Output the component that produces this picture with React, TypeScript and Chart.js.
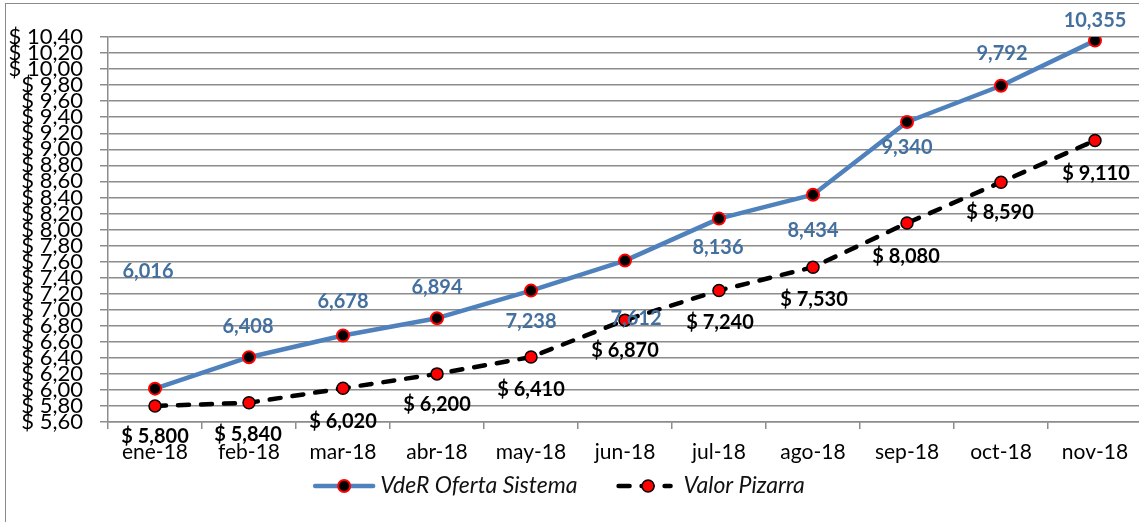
import React, { useEffect, useRef } from "react";
import { Chart, registerables } from "chart.js";

Chart.register(...registerables);

const categories = ["ene-18", "feb-18", "mar-18", "abr-18", "may-18", "jun-18", "jul-18", "ago-18", "sep-18", "oct-18", "nov-18"];
const vderValues = [6.016, 6.408, 6.678, 6.894, 7.238, 7.612, 8.136, 8.434, 9.34, 9.792, 10.355];
const pizarraValues = [5.8, 5.84, 6.02, 6.2, 6.41, 6.87, 7.24, 7.53, 8.08, 8.59, 9.11];
const yTicks = [5.6, 5.8, 6.0, 6.2, 6.4, 6.6, 6.8, 7.0, 7.2, 7.4, 7.6, 7.8, 8.0, 8.2, 8.4, 8.6, 8.8, 9.0, 9.2, 9.4, 9.6, 9.8, 10.0, 10.2, 10.4];
const seriesNames = ["VdeR Oferta Sistema", "Valor Pizarra"];

// label placement (pixel offsets from each point)
const vderLabelDx = [-7, -1, 0, 0, 0, 11, -1, 0, 0, 1, 0];
const vderLabelDy = [-117, -31, -34, -31, 31, 58, 29, 36, 26, -32, -20];
const pizarraLabelDx = [0, -1, 0, 0, 0, 0, 1, 1, -1, -1, 1];
const pizarraLabelDy = [31, 32, 33, 31, 33, 30, 32, 32, 33, 30, 33];

const FONT = "Lato, 'Open Sans', sans-serif";
const BLUE = "#4F81BD";
const LABEL_BLUE = "#44709f";
const GRID = "#8c8c8c";

const fmtVdeR = (v: number) => v.toFixed(3).replace(".", ",");
const fmtPiz = (v: number) => "$ " + v.toFixed(3).replace(".", ",");

const labelPlugin = {
  id: "pointLabels",
  afterDatasetsDraw(chart: any) {
    const ctx = chart.ctx;
    ctx.save();
    ctx.font = `bold 20px ${FONT}`;
    ctx.textAlign = "center";
    ctx.textBaseline = "middle";
    chart.data.datasets.forEach((ds: any, di: number) => {
      const meta = chart.getDatasetMeta(di);
      meta.data.forEach((el: any, i: number) => {
        const v = ds.data[i];
        if (di === 0) {
          ctx.fillStyle = LABEL_BLUE;
          ctx.fillText(fmtVdeR(v), el.x + vderLabelDx[i], el.y + vderLabelDy[i]);
        } else {
          ctx.fillStyle = "#000";
          ctx.fillText(fmtPiz(v), el.x + pizarraLabelDx[i], el.y + pizarraLabelDy[i]);
        }
      });
    });
    ctx.restore();
  },
};

const legendPlugin = {
  id: "customLegend",
  afterDraw(chart: any) {
    const ctx = chart.ctx;
    ctx.save();
    ctx.font = `italic 23px ${FONT}`;
    ctx.textBaseline = "middle";
    ctx.textAlign = "left";
    const y = 486;
    const s1 = 62, g1 = 5, s2 = 57, g2 = 11, between = 38;
    const w1 = ctx.measureText(seriesNames[0]).width;
    const w2 = ctx.measureText(seriesNames[1]).width;
    const total = s1 + g1 + w1 + between + s2 + g2 + w2;
    let x = 559 - total / 2;
    const ds0 = chart.data.datasets[0];
    const ds1 = chart.data.datasets[1];
    // sample 1
    ctx.strokeStyle = ds0.borderColor;
    ctx.lineWidth = ds0.borderWidth;
    ctx.lineCap = "round";
    ctx.setLineDash([]);
    ctx.beginPath();
    ctx.moveTo(x + 2, y);
    ctx.lineTo(x + s1 - 2, y);
    ctx.stroke();
    ctx.beginPath();
    ctx.arc(x + s1 / 2, y, ds0.pointRadius, 0, Math.PI * 2);
    ctx.fillStyle = ds0.pointBackgroundColor;
    ctx.fill();
    ctx.lineWidth = ds0.pointBorderWidth;
    ctx.strokeStyle = ds0.pointBorderColor;
    ctx.stroke();
    x += s1 + g1;
    ctx.fillStyle = "#111";
    ctx.fillText(seriesNames[0], x, y);
    x += w1 + between;
    // sample 2
    ctx.strokeStyle = ds1.borderColor;
    ctx.lineWidth = ds1.borderWidth;
    ctx.lineCap = "round";
    ctx.setLineDash([11, 12]);
    ctx.beginPath();
    ctx.moveTo(x + 3, y);
    ctx.lineTo(x + s2 - 2, y);
    ctx.stroke();
    ctx.setLineDash([]);
    ctx.beginPath();
    ctx.arc(x + s2 / 2 + 4, y, ds1.pointRadius, 0, Math.PI * 2);
    ctx.fillStyle = ds1.pointBackgroundColor;
    ctx.fill();
    ctx.lineWidth = ds1.pointBorderWidth;
    ctx.strokeStyle = ds1.pointBorderColor;
    ctx.stroke();
    x += s2 + g2;
    ctx.fillStyle = "#111";
    ctx.fillText(seriesNames[1], x, y);
    ctx.restore();
  },
};

export default function App() {
  const ref = useRef<HTMLCanvasElement | null>(null);
  useEffect(() => {
    if (!ref.current) return;
    const chart = new Chart(ref.current, {
      type: "line",
      data: {
        labels: categories,
        datasets: [
          {
            label: seriesNames[0],
            data: vderValues,
            borderColor: BLUE,
            borderWidth: 4.5,
            tension: 0,
            pointRadius: 6,
            pointBackgroundColor: "#000000",
            pointBorderColor: "#FF0000",
            pointBorderWidth: 2,
            borderCapStyle: "round",
            borderJoinStyle: "round",
          },
          {
            label: seriesNames[1],
            data: pizarraValues,
            borderColor: "#000000",
            borderWidth: 4.5,
            borderDash: [11, 12],
            borderCapStyle: "round",
            tension: 0,
            pointRadius: 6,
            pointBackgroundColor: "#FF0000",
            pointBorderColor: "#000000",
            pointBorderWidth: 1.5,
          },
        ],
      },
      options: {
        responsive: false,
        animation: false,
        layout: { padding: { top: 37, left: 0, right: 6, bottom: 50 } },
        plugins: { legend: { display: false }, tooltip: { enabled: false } },
        scales: {
          x: {
            offset: true,
            grid: { display: true, drawOnChartArea: false, drawTicks: true, tickLength: 7, color: GRID, lineWidth: 1.5, offset: true },
            border: { color: GRID, width: 1.5 },
            ticks: { font: { family: FONT, size: 21 }, color: "#000", padding: 11, maxRotation: 0, autoSkip: false },
            afterFit: (s: any) => { s.height = 50; },
          },
          y: {
            min: 5.6,
            max: 10.4,
            afterBuildTicks: (s: any) => { s.ticks = yTicks.map((v) => ({ value: v })); },
            grid: { color: GRID, lineWidth: 1.5, tickLength: 8, drawTicks: true },
            border: { color: GRID, width: 1.5 },
            ticks: {
              autoSkip: false,
              font: { family: FONT, size: 22 },
              color: "#000",
              padding: 17,
              callback: (v: any) => "$ " + Number(v).toFixed(2).replace(".", ","),
            },
            afterFit: (s: any) => { s.width = 108; },
          },
        },
      },
      plugins: [labelPlugin, legendPlugin],
    });
    return () => chart.destroy();
  }, []);
  return (
    <div style={{ position: "fixed", left: 0, top: 0, width: 1139, height: 522, overflow: "hidden", background: "#fff" }}>
      <div style={{ position: "absolute", left: 5, top: 3, width: 1300, height: 700, border: "1.5px solid #8a8a8a" }} />
      <canvas ref={ref} width={1150} height={522} style={{ position: "absolute", left: 0, top: 0, width: 1150, height: 522 }} />
    </div>
  );
}
